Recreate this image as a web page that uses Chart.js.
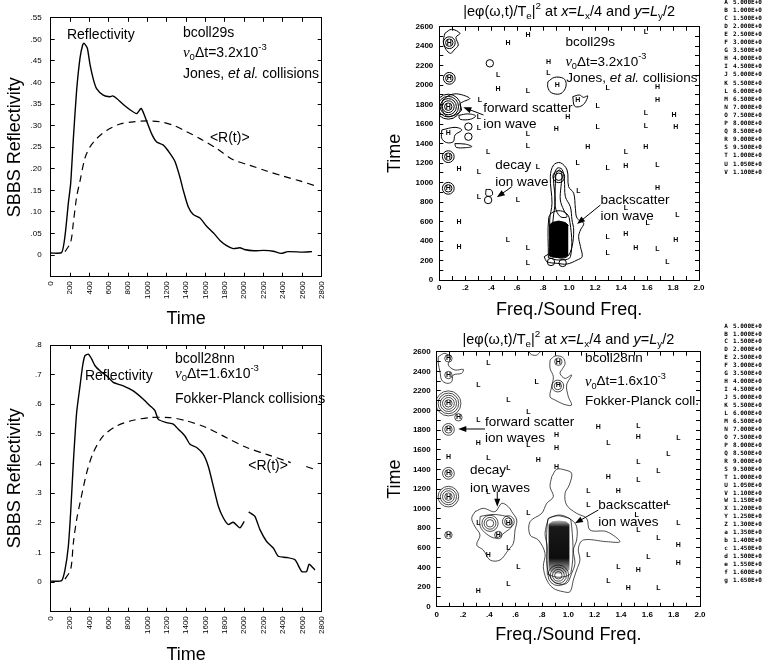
<!DOCTYPE html>
<html><head><meta charset="utf-8">
<script src="https://cdn.jsdelivr.net/npm/chart.js@4.4.1/dist/chart.umd.min.js"></script>
<style>
html,body{margin:0;padding:0;background:#fff;width:765px;height:667px;overflow:hidden}
canvas{position:absolute;left:0;top:0}
</style></head><body>
<canvas id="cTL" width="765" height="667"></canvas>
<canvas id="cTR" width="765" height="667"></canvas>
<canvas id="cBL" width="765" height="667"></canvas>
<canvas id="cBR" width="765" height="667"></canvas>
<script>
// ---------------- DATA ----------------
const timeTicks = [0,200,400,600,800,1000,1200,1400,1600,1800,2000,2200,2400,2600,2800];
const freqTicks = [0,0.2,0.4,0.6,0.8,1.0,1.2,1.4,1.6,1.8,2.0];

// bcoll29s reflectivity (top-left)
const refl29Time  = [0,113,148,182,206,234,268,303,330,344,378,406,440,474,543,612,640,682,750,819,888,935,992,1043,1095,1164,1232,1284,1336,1370,1421,1473,1542,1611,1680,1749,1818,1886,1955,2000,2100,2200,2300,2380,2450,2600,2700];
const refl29Value = [0.005,0.006,0.045,0.12,0.165,0.27,0.382,0.457,0.487,0.491,0.48,0.442,0.408,0.386,0.371,0.367,0.369,0.363,0.349,0.337,0.328,0.340,0.31,0.281,0.262,0.255,0.236,0.217,0.18,0.15,0.112,0.094,0.086,0.067,0.052,0.034,0.022,0.015,0.017,0.013,0.010,0.011,0.009,0.004,0.008,0.007,0.008];
const avg29Time  = [148,206,234,268,303,354,406,474,578,716,853,992,1129,1267,1405,1542,1715,1886,2059,2231,2403,2575,2730];
const avg29Value = [0.008,0.03,0.075,0.135,0.172,0.225,0.251,0.27,0.289,0.304,0.309,0.311,0.309,0.301,0.286,0.27,0.247,0.221,0.208,0.195,0.183,0.172,0.161];

// bcoll28nn reflectivity (bottom-left)
const refl28Time  = [0,113,148,182,206,234,268,303,330,354,389,423,458,509,578,647,750,853,957,1026,1078,1112,1198,1267,1318,1387,1439,1508,1577,1628,1680,1732,1783,1835,1886,1955,2000,2020,2045,2059,2110,2162,2231,2300,2351,2438,2524,2593,2644,2670,2730];
const refl28Value = [0.003,0.005,0.042,0.12,0.234,0.403,0.572,0.662,0.73,0.764,0.769,0.753,0.73,0.713,0.696,0.674,0.662,0.645,0.617,0.595,0.578,0.549,0.538,0.533,0.516,0.493,0.465,0.454,0.431,0.391,0.324,0.256,0.217,0.194,0.202,0.183,0.205,null,0.236,0.234,0.222,0.177,0.137,0.115,0.087,0.083,0.075,0.036,0.036,0.06,0.041];
const avg28Time  = [148,206,234,268,303,372,440,543,682,853,1026,1232,1405,1611,1818,2025,2231,2438,2480,2550,2640,2730];
const avg28Value = [0.01,0.042,0.132,0.211,0.267,0.369,0.437,0.493,0.527,0.546,0.555,0.555,0.544,0.521,0.487,0.454,0.431,0.408,0.403,null,0.39,0.38];

// contour panel bcoll29s (top-right): [freq, time]
const hMarks29 = [[0.683,2514],[0.529,2429],[0.841,2241],[0.453,1957],[1.680,1977],[1.680,1847],[1.808,1693],[0.990,1669],[1.821,1567],[0.900,1550],[1.143,1362],[1.591,1362],[1.437,1173],[0.151,1139],[1.680,941],[0.151,599],[1.437,472],[1.821,411],[0.151,342],[1.514,325],[0.077,2436],[0.077,2070],[0.069,1779],[0.069,1505],[0.069,1266],[0.069,941],[0.908,2001],[1.066,1847]];
const lMarks29 = [[1.591,2549],[0.453,2104],[0.841,2128],[0.683,1943],[1.297,1967],[0.312,1847],[1.220,1786],[1.591,1717],[1.220,1567],[1.591,1580],[0.683,1498],[0.683,1375],[1.437,1317],[0.376,1317],[0.760,1156],[1.066,1197],[1.297,1146],[1.680,1180],[0.304,1112],[1.072,913],[0.304,848],[0.606,821],[1.437,735],[1.834,667],[1.604,582],[1.297,438],[0.529,411],[0.683,325],[1.680,315],[1.297,274],[0.683,171],[1.757,188],[0.304,1676],[0.304,1557]];
const loops29 = [
 [[0.043,2532],[0.095,2573],[0.159,2532],[0.128,2491],[0.146,2412],[0.113,2360],[0.087,2326],[0.051,2367],[0.031,2446],[0.043,2532]],
 [[0.026,1847],[0.082,1899],[0.146,1909],[0.235,1864],[0.184,1830],[0.159,1806],[0.171,1745],[0.120,1693],[0.056,1683],[0.020,1762],[0.026,1847]],
 [[0.15,1690],[0.22,1705],[0.28,1685],[0.24,1650],[0.16,1650],[0.15,1690]],
 [[0.019,1540],[0.121,1567],[0.173,1540],[0.121,1488],[0.108,1420],[0.057,1410],[0.019,1454],[0.019,1540]],
 [[0.12,1400],[0.2,1395],[0.25,1370],[0.2,1358],[0.13,1362],[0.12,1400]],
 [[0.36,930],[0.40,924],[0.41,880],[0.39,860],[0.36,870],[0.36,930]],
 [[0.836,2035],[0.887,2080],[0.956,2070],[0.977,2018],[0.964,1950],[0.926,1909],[0.862,1923],[0.836,1978],[0.836,2035]],
 [[1.028,1882],[1.079,1899],[1.110,1875],[1.143,1889],[1.118,1813],[1.079,1779],[1.041,1786],[1.028,1882]],
 [[0.808,239],[0.855,291],[0.850,616],[0.868,787],[0.855,1060],[0.880,1180],[0.932,1204],[0.984,1129],[0.996,958],[1.035,890],[1.048,736],[1.061,633],[1.112,582],[1.087,513],[1.073,445],[1.087,342],[1.100,239],[1.061,205],[0.984,164],[0.907,171],[0.829,188],[0.808,239]],
 [[0.868,308],[0.876,616],[0.893,821],[0.880,1044],[0.907,1147],[0.945,1136],[0.963,1026],[0.971,855],[1.009,752],[1.022,616],[1.035,513],[1.022,342],[0.984,239],[0.907,233],[0.868,308]],
 [[0.893,958],[0.901,1095],[0.927,1129],[0.945,1078],[0.937,958],[0.932,821],[0.958,719],[0.984,650],[0.932,650],[0.893,752],[0.893,958]],
 [[0.84,230],[0.843,640],[0.88,700],[0.95,705],[1.0,640],[1.01,240],[0.92,205],[0.84,230]]
];
const peaks29 = [[0.077,2436,2],[0.077,2070,2],[0.069,1779,5],[0.224,1574,1],[0.224,1471,1],[0.069,1266,2],[0.069,941,2],[0.376,821,1],[0.389,2224,1],[0.92,1060,2],[0.86,185,1],[0.95,175,1]];
const block29Top    = [[0.845,560],[0.87,590],[0.92,605],[0.97,590],[0.995,560]];
const block29Bottom = [[0.845,250],[0.87,235],[0.92,230],[0.97,235],[0.995,255]];

// contour panel bcoll28nn (bottom-right)
const hMarks28 = [[0.089,2532],[0.089,2362],[0.924,2498],[0.924,2260],[0.089,2073],[0.165,1931],[1.228,1829],[0.089,1808],[0.911,1750],[1.532,1727],[0.316,1666],[0.911,1615],[0.089,1530],[0.772,1496],[0.089,1360],[0.911,1421],[1.304,1326],[0.089,1122],[1.380,1183],[0.544,850],[0.468,731],[0.089,731],[1.835,629],[0.392,527],[1.532,374],[1.835,442],[0.316,163],[1.456,187]];
const lMarks28 = [[0.392,2481],[0.759,2294],[0.316,2260],[0.544,2107],[0.696,1988],[0.316,1903],[1.532,1846],[1.835,1716],[0.696,1649],[1.304,1666],[1.759,1553],[0.392,1513],[1.532,1479],[0.544,1411],[1.684,1387],[1.532,1292],[0.392,1166],[1.152,1183],[1.152,1037],[1.759,1054],[0.696,952],[1.519,935],[0.316,850],[1.835,850],[1.532,782],[0.544,595],[1.684,697],[1.152,527],[1.608,510],[0.620,408],[1.380,401],[1.304,265],[0.544,231],[1.684,187]];
const loops28 = [
 [[0.012,2549],[0.063,2584],[0.101,2533],[0.088,2464],[0.139,2413],[0.202,2420],[0.19,2380],[0.126,2362],[0.114,2294],[0.076,2278],[0.038,2311],[0.025,2396],[0.012,2482],[0.012,2549]],
 [[0.861,2515],[0.899,2556],[0.957,2542],[0.975,2481],[0.957,2430],[0.937,2379],[0.975,2328],[1.025,2362],[0.987,2260],[1.0,2141],[1.025,2056],[0.987,2056],[0.949,2073],[0.899,2107],[0.861,2141],[0.873,2243],[0.886,2345],[0.861,2430],[0.861,2515]],
 [[0.70,2600],[0.72,2570],[0.76,2565],[0.78,2590],[0.79,2600]],
 [[0.291,969],[0.354,1003],[0.443,969],[0.494,1054],[0.544,1020],[0.570,969],[0.608,884],[0.595,782],[0.582,646],[0.544,578],[0.481,476],[0.405,476],[0.354,578],[0.304,629],[0.329,731],[0.291,816],[0.266,901],[0.291,969]],
 [[0.33,920],[0.42,940],[0.5,930],[0.56,900],[0.57,820],[0.52,760],[0.45,700],[0.38,740],[0.33,820],[0.33,920]],
 [[0.874,1326],[0.912,1401],[0.975,1394],[1.025,1360],[1.007,1241],[0.975,1156],[0.987,1037],[1.063,952],[1.139,901],[1.164,782],[1.291,765],[1.392,663],[1.291,663],[1.114,680],[1.076,595],[1.088,476],[1.063,374],[1.038,272],[1.013,153],[0.962,153],[0.886,188],[0.836,272],[0.810,408],[0.823,544],[0.772,680],[0.709,731],[0.709,867],[0.798,952],[0.836,1054],[0.886,1122],[0.861,1224],[0.874,1326]],
 [[0.848,901],[0.937,935],[1.025,884],[1.063,816],[1.063,680],[1.038,578],[1.050,442],[1.025,340],[0.987,238],[0.912,238],[0.861,306],[0.836,442],[0.840,612],[0.823,748],[0.848,901]],
 [[0.84,330],[0.843,880],[0.9,925],[0.97,915],[1.02,880],[1.02,350],[0.93,300],[0.84,330]]
];
const peaks28 = [[0.089,2532,1],[0.089,2362,1],[0.089,2073,5],[0.089,1808,2],[0.089,1360,2],[0.089,1122,4],[0.089,731,1],[0.924,2498,1],[0.92,2250,2],[0.405,850,3],[0.544,867,2],[0.468,731,1],[0.924,320,4],[0.165,1931,1]];
const block28Top    = [[0.848,840],[0.88,870],[0.93,880],[0.98,870],[1.01,840]];
const block28Bottom = [[0.848,380],[0.88,340],[0.93,330],[0.98,340],[1.01,380]];

// contour level legends
const legendLetters = ['A','B','C','D','E','F','G','H','I','J','K','L','M','N','O','P','Q','R','S','T','U','V','W','X','Y','Z','a','b','c','d','e','f','g'];
const legendValues = ['5.000E+0','1.000E+0','1.500E+0','2.000E+0','2.500E+0','3.000E+0','3.500E+0','4.000E+0','4.500E+0','5.000E+0','5.500E+0','6.000E+0','6.500E+0','7.000E+0','7.500E+0','8.000E+0','8.500E+0','9.000E+0','9.500E+0','1.000E+0','1.050E+0','1.100E+0','1.150E+0','1.200E+0','1.250E+0','1.300E+0','1.350E+0','1.400E+0','1.450E+0','1.500E+0','1.550E+0','1.600E+0','1.650E+0'];
const legendCount29 = 22;
const legendCount28 = 33;

// ---------------- HELPERS ----------------
const FONT = '"Liberation Sans", Arial, Helvetica, sans-serif';
const SERIF = '"Liberation Serif", "Times New Roman", serif';
Chart.defaults.font.family = FONT;
Chart.defaults.color = '#000';

const toXY = (xs, ys) => xs.map((x,i)=>({x, y: ys[i]}));
const toPts = arr => arr.map(p=>({x:p[0], y:p[1]}));

function drawRich(ctx, x, y, segs, size, align){
  const parts = segs.map(([t,k])=>{
    let st='', s=size, dy=0, fam=FONT;
    if(k==='i') st='italic ';
    if(k==='sub'){ s=size*0.68; dy=size*0.32; }
    if(k==='sup'){ s=size*0.68; dy=-size*0.38; }
    if(k==='nu'){ st='italic '; fam=SERIF; s=size*1.08; }
    const f = st + s.toFixed(2) + 'px ' + fam;
    ctx.font = f;
    return {t, f, dy, w: ctx.measureText(t).width};
  });
  const total = parts.reduce((a,p)=>a+p.w,0);
  let cx = align==='center' ? x-total/2 : (align==='right' ? x-total : x);
  ctx.textAlign='left'; ctx.textBaseline='middle';
  for(const p of parts){ ctx.font=p.f; ctx.fillText(p.t, cx, y+p.dy); cx+=p.w; }
}
function drawArrow(ctx,x1,y1,x2,y2){
  const a=Math.atan2(y2-y1,x2-x1), L=8, W=3;
  ctx.beginPath(); ctx.moveTo(x1,y1); ctx.lineTo(x2-Math.cos(a)*L*0.8,y2-Math.sin(a)*L*0.8); ctx.lineWidth=1; ctx.stroke();
  ctx.beginPath(); ctx.moveTo(x2,y2);
  ctx.lineTo(x2-Math.cos(a)*L-Math.sin(a)*W, y2-Math.sin(a)*L+Math.cos(a)*W);
  ctx.lineTo(x2-Math.cos(a)*L+Math.sin(a)*W, y2-Math.sin(a)*L-Math.cos(a)*W);
  ctx.closePath(); ctx.fill();
}
function makeOverlay(cfg){
  return {
    id: 'overlay_'+cfg.name,
    afterDatasetsDraw(chart){
      const ctx=chart.ctx, xs=chart.scales.x, ys=chart.scales.y, ca=chart.chartArea;
      ctx.save();
      ctx.fillStyle='#000'; ctx.strokeStyle='#000';
      chart.data.datasets.forEach((ds,i)=>{
        if(!ds.markText) return;
        const meta=chart.getDatasetMeta(i);
        ctx.font='bold 7px ' + FONT; ctx.textAlign='center'; ctx.textBaseline='middle';
        meta.data.forEach(pt=>ctx.fillText(ds.markText, pt.x, pt.y));
      });
      (cfg.texts||[]).forEach(t=>drawRich(ctx, xs.getPixelForValue(t.x), ys.getPixelForValue(t.y), t.segs, t.size||cfg.size, 'left'));
      (cfg.arrows||[]).forEach(a=>drawArrow(ctx, xs.getPixelForValue(a[0]), ys.getPixelForValue(a[1]), xs.getPixelForValue(a[2]), ys.getPixelForValue(a[3])));
      if(cfg.title) drawRich(ctx, (ca.left+ca.right)/2, ca.top-cfg.titleOffset, cfg.title, 14.5, 'center');
      if(cfg.legend){
        const lg=cfg.legend;
        ctx.font='bold 6px "DejaVu Sans Mono", monospace'; ctx.textBaseline='middle';
        for(let i=0;i<lg.count;i++){
          const y=lg.y0+i*lg.step;
          ctx.textAlign='center'; ctx.fillText(legendLetters[i], lg.x, y);
          ctx.textAlign='left'; ctx.fillText(legendValues[i], lg.x+7, y);
        }
      }
      ctx.restore();
    }
  };
}
function scalesCfg(o){
  const grid={drawOnChartArea:false,color:'#000',tickLength:-4,tickWidth:1,drawTicks:true};
  const border={display:true,color:'#000',width:1};
  const tfont={family:FONT,size:8,weight:o.bold?'bold':'normal'};
  return {
    x:{type:'linear',position:'bottom',min:o.xmin,max:o.xmax,
       ticks:{stepSize:o.xstep,autoSkip:false,maxRotation:o.xRot,minRotation:o.xRot,padding:o.xPad,font:tfont,color:'#000',callback:o.xcb},
       grid, border,
       title:{display:true,text:o.xTitle,color:'#000',font:{family:FONT,size:18},padding:{top:0,bottom:o.xTitlePad}},
       afterFit(s){s.height=o.xH;}},
    y:{type:'linear',position:'left',min:o.ymin,max:o.ymax,
       ticks:{stepSize:o.ystep,autoSkip:false,padding:o.yPad,font:tfont,color:'#000',callback:o.ycb},
       grid, border,
       title:{display:true,text:o.yTitle,color:'#000',font:{family:FONT,size:18},padding:{top:o.yTitlePad,bottom:0}},
       afterFit(s){s.width=o.yW;}},
    x2:{type:'linear',position:'top',min:o.xmin,max:o.xmax,ticks:{display:false,stepSize:o.xstep},grid,border,afterFit(s){s.height=0;}},
    y2:{type:'linear',position:'right',min:o.ymin,max:o.ymax,ticks:{display:false,stepSize:o.ystep},grid,border,afterFit(s){s.width=0;}}
  };
}
function baseOptions(padding, scales){
  return {responsive:false,animation:false,events:[],
    layout:{padding},
    plugins:{legend:{display:false},tooltip:{enabled:false},title:{display:false}},
    scales};
}
function contourDatasets(p){
  const ds=[];
  ds.push({data:toPts(p.blockTop),showLine:true,pointRadius:0,borderColor:p.blockEdge,borderWidth:1,fill:false});
  ds.push({data:toPts(p.blockBottom),showLine:true,pointRadius:0,borderColor:p.blockEdge,borderWidth:1,fill:'-1',backgroundColor:p.blockFill});
  p.loops.forEach(l=>ds.push({data:toPts(l),showLine:true,pointRadius:0,borderColor:'#000',borderWidth:p.lw,tension:0.35,fill:false}));
  p.peaks.forEach(r=>{
    const pts=[], rad=[];
    for(let k=1;k<=r[2];k++){ pts.push({x:r[0],y:r[1]}); rad.push(1.5+2.2*k); }
    ds.push({data:pts,showLine:false,pointRadius:rad,pointStyle:'circle',pointBackgroundColor:'rgba(0,0,0,0)',pointBorderColor:'#000',pointBorderWidth:p.lw});
  });
  ds.push({data:toPts(p.hMarks),showLine:false,pointRadius:0,markText:'H'});
  ds.push({data:toPts(p.lMarks),showLine:false,pointRadius:0,markText:'L'});
  return ds;
}

const nu = (num) => [['ν','nu'],['0','sub'],['Δt='+num+'x10','n'],['-3','sup']];
const reflLine = {showLine:true,borderColor:'#000',borderWidth:1.4,pointRadius:0,tension:0.2,spanGaps:false};
const avgLine  = {showLine:true,borderColor:'#000',borderWidth:1.2,pointRadius:0,tension:0.3,borderDash:[7,5],spanGaps:false};
const freqCb = v => { const r=Math.round(v*10); if(r%2) return ''; if(r===0) return '0'; if(r<10) return '.'+r; return (r/10).toFixed(1); };
const timeCb = v => (Math.round(v)%200===0 ? String(Math.round(v)) : '');

// ---------------- TOP-LEFT ----------------
new Chart(document.getElementById('cTL'), {
  type:'scatter',
  data:{datasets:[
    Object.assign({data:toXY(refl29Time,refl29Value)}, reflLine),
    Object.assign({data:toXY(avg29Time,avg29Value)}, avgLine)
  ]},
  options: baseOptions({left:0,top:10,right:443.3,bottom:337}, scalesCfg({
    xmin:0,xmax:2800,xstep:200,xRot:90,xPad:8.5,xH:53.3,xTitle:'Time',xTitlePad:0,xcb:v=>String(v),
    ymin:-0.05,ymax:0.55,ystep:0.05,yPad:13,yW:50.7,yTitle:'SBBS Reflectivity',yTitlePad:4.2,
    ycb:v=>{const r=Math.round(v*100); if(r<0) return ''; if(r===0) return '0'; return '.'+String(r).padStart(2,'0');}
  })),
  plugins:[makeOverlay({name:'TL',size:14,
    texts:[
      {x:168,y:0.509,segs:[['Reflectivity','n']]},
      {x:1366,y:0.514,segs:[['bcoll29s','n']]},
      {x:1366,y:0.469,segs:nu('3.2')},
      {x:1366,y:0.42,segs:[['Jones, ','n'],['et al.','i'],[' collisions','n']]},
      {x:1645,y:0.27,segs:[['<R(t)>','n']]}
    ]})]
});

// ---------------- BOTTOM-LEFT ----------------
new Chart(document.getElementById('cBL'), {
  type:'scatter',
  data:{datasets:[
    Object.assign({data:toXY(refl28Time,refl28Value)}, reflLine),
    Object.assign({data:toXY(avg28Time,avg28Value)}, avgLine)
  ]},
  options: baseOptions({left:0,top:345,right:443.3,bottom:0}, scalesCfg({
    xmin:0,xmax:2800,xstep:200,xRot:90,xPad:8.5,xH:55.3,xTitle:'Time',xTitlePad:1.2,xcb:v=>String(v),
    ymin:-0.1,ymax:0.8,ystep:0.1,yPad:13,yW:50.7,yTitle:'SBBS Reflectivity',yTitlePad:4.2,
    ycb:v=>{const r=Math.round(v*10); if(r<0) return ''; if(r===0) return '0'; return '.'+r;}
  })),
  plugins:[makeOverlay({name:'BL',size:14,
    texts:[
      {x:354,y:0.696,segs:[['Reflectivity','n']]},
      {x:1284,y:0.753,segs:[['bcoll28nn','n']]},
      {x:1284,y:0.702,segs:nu('1.6')},
      {x:1284,y:0.617,segs:[['Fokker-Planck collisions','n']]},
      {x:2041,y:0.391,segs:[['<R(t)>','n']]}
    ]})]
});

// ---------------- TOP-RIGHT ----------------
const titleSegs = [['|eφ(ω,t)/T','n'],['e','sub'],['|','n'],['2','sup'],[' at ','n'],['x','i'],['=','n'],['L','i'],['x','sub'],['/4 and ','n'],['y','i'],['=','n'],['L','i'],['y','sub'],['/2','n']];
new Chart(document.getElementById('cTR'), {
  type:'scatter',
  data:{datasets:contourDatasets({loops:loops29,peaks:peaks29,hMarks:hMarks29,lMarks:lMarks29,
    blockTop:block29Top,blockBottom:block29Bottom,blockEdge:'#000',blockFill:'#000',lw:1})},
  options: baseOptions({left:380,top:26.7,right:66,bottom:337}, scalesCfg({bold:true,
    xmin:0,xmax:2.0,xstep:0.1,xRot:0,xPad:7,xH:50,xTitle:'Freq./Sound Freq.',xTitlePad:9.2,xcb:freqCb,
    ymin:0,ymax:2600,ystep:100,yPad:10,yW:59.3,yTitle:'Time',yTitlePad:4.2,ycb:timeCb
  })),
  plugins:[makeOverlay({name:'TR',size:13.5,title:titleSegs,titleOffset:14.7,
    legend:{x:726,y0:2,step:8.1,count:legendCount29},
    texts:[
      {x:0.971,y:2443,segs:[['bcoll29s','n']]},
      {x:0.971,y:2238,segs:nu('3.2')},
      {x:0.977,y:2074,segs:[['Jones, ','n'],['et al.','i'],[' collisions','n']]},
      {x:0.338,y:1766,segs:[['forward scatter','n']]},
      {x:0.338,y:1601,segs:[['ion wave','n']]},
      {x:0.43,y:1180,segs:[['decay','n']]},
      {x:0.43,y:1006,segs:[['ion wave','n']]},
      {x:1.241,y:821,segs:[['backscatter','n']]},
      {x:1.241,y:657,segs:[['ion wave','n']]}
    ],
    arrows:[[0.34,1694,0.185,1773],[0.559,958,0.443,849],[1.241,770,1.061,575]]
  })]
});

// ---------------- BOTTOM-RIGHT ----------------
const gradFill = (c) => {
  const ch=c.chart; if(!ch.chartArea) return '#000';
  const y=ch.scales.y;
  const g=ch.ctx.createLinearGradient(0,y.getPixelForValue(880),0,y.getPixelForValue(330));
  g.addColorStop(0,'rgba(0,0,0,0.25)'); g.addColorStop(0.12,'rgba(0,0,0,0.9)');
  g.addColorStop(0.7,'rgba(0,0,0,0.95)'); g.addColorStop(1,'rgba(0,0,0,0.15)');
  return g;
};
new Chart(document.getElementById('cBR'), {
  type:'scatter',
  data:{datasets:contourDatasets({loops:loops28,peaks:peaks28,hMarks:hMarks28,lMarks:lMarks28,
    blockTop:block28Top,blockBottom:block28Bottom,blockEdge:'rgba(0,0,0,0)',blockFill:gradFill,lw:0.7})},
  options: baseOptions({left:380,top:351.7,right:65,bottom:0}, scalesCfg({bold:true,
    xmin:0,xmax:2.0,xstep:0.1,xRot:0,xPad:7,xH:60.3,xTitle:'Freq./Sound Freq.',xTitlePad:21.2,xcb:freqCb,
    ymin:0,ymax:2600,ystep:100,yPad:10,yW:56.7,yTitle:'Time',yTitlePad:4.2,ycb:timeCb
  })),
  plugins:[makeOverlay({name:'BR',size:13.5,title:titleSegs,titleOffset:11.7,
    legend:{x:726,y0:326,step:7.95,count:legendCount28},
    texts:[
      {x:1.126,y:2533,segs:[['bcoll28nn','n']]},
      {x:1.126,y:2294,segs:nu('1.6')},
      {x:1.126,y:2090,segs:[['Fokker-Planck coll.','n']]},
      {x:0.367,y:1876,segs:[['forward scatter','n']]},
      {x:0.367,y:1717,segs:[['ion waves','n']]},
      {x:0.253,y:1394,segs:[['decay','n']]},
      {x:0.253,y:1207,segs:[['ion waves','n']]},
      {x:1.228,y:1037,segs:[['backscatter','n']]},
      {x:1.228,y:857,segs:[['ion waves','n']]}
    ],
    arrows:[[0.367,1812,0.164,1812],[0.46,1173,0.46,1020],[1.228,986,1.05,850]]
  })]
});
</script>
</body></html>
